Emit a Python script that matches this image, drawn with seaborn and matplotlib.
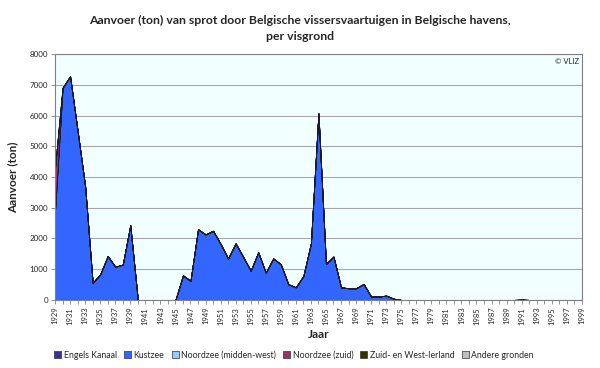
import numpy as np
import pandas as pd
import matplotlib
matplotlib.use("Agg")
import matplotlib.pyplot as plt
import seaborn as sns
from matplotlib.patches import Patch

# data
years = list(range(1929, 2000))
kustzee = [2900, 6900, 7280, 5500, 3700, 560, 830, 1430, 1080, 1150,
           2430, 0, 0, 0, 0, 0, 0, 800, 620, 2300,
           2130, 2250, 1820, 1350, 1840, 1400, 950, 1550, 890, 1350,
           1160, 510, 410, 780, 1840, 6070, 1170, 1410, 410, 380,
           380, 520, 110, 110, 140, 40,
           0, 0, 0, 0, 0, 0, 0, 0, 0, 0,
           0, 0, 0, 0, 0, 0, 0, 0, 0, 0,
           0, 0, 0, 0, 0]
# sparse series: only the years with a visible value
engels_kanaal = {}
noordzee_mw = {}
noordzee_zuid = {1929: 1400}
ierland = {1991: 20}
andere = {}

series_names = ["Engels Kanaal", "Kustzee", "Noordzee (midden-west)",
                "Noordzee (zuid)", "Zuid- en West-Ierland", "Andere gronden"]
series_colors = ["#333399", "#3366FF", "#99CCFF", "#993366", "#333300", "#C0C0C0"]

df = pd.DataFrame({"Jaar": years, "Kustzee": kustzee})
for name, d in [("Engels Kanaal", engels_kanaal), ("Noordzee (midden-west)", noordzee_mw),
                ("Noordzee (zuid)", noordzee_zuid), ("Zuid- en West-Ierland", ierland),
                ("Andere gronden", andere)]:
    df[name] = [d.get(y, 0) for y in years]

sns.set_theme(style="white")
plt.rcParams["font.family"] = ["Lato", "DejaVu Sans"]

fig = plt.figure(figsize=(6, 3.68), dpi=100)
ax = fig.add_axes([0.0917, 0.185, 0.878, 0.668])
ax.set_facecolor("#F2FFFF")

ax.stackplot(df["Jaar"], [df[n] for n in series_names], colors=series_colors,
             edgecolor="#1a1a33", linewidth=0.6)

ax.set_xlim(1929, 1999)
ax.set_ylim(0, 8000)
ax.set_yticks(range(0, 8001, 1000))
ax.yaxis.grid(True, color="#A8A8A8", linewidth=0.8)
ax.set_axisbelow(True)
ax.set_xticks(years)
ax.set_xticklabels([str(y) if (y - 1929) % 2 == 0 else "" for y in years],
                   rotation=90, fontsize=5.5)
ax.tick_params(axis="y", labelsize=5.8, length=3, width=0.6, color="#808080", pad=2, left=True)
ax.tick_params(axis="x", length=3, width=0.6, color="#808080", pad=2, bottom=True)
for s in ax.spines.values():
    s.set_color("#808080")
    s.set_linewidth(0.8)

ax.set_xlabel("Jaar", fontsize=8.5, fontweight="bold", labelpad=3)
ax.set_ylabel("Aanvoer (ton)", fontsize=8.5, fontweight="bold", labelpad=8)
fig.suptitle("Aanvoer (ton) van sprot door Belgische vissersvaartuigen in Belgische havens,\nper visgrond",
             fontsize=8.8, fontweight="bold", y=0.96, linespacing=1.55)
ax.text(0.995, 0.985, "© VLIZ", transform=ax.transAxes, ha="right", va="top", fontsize=5.5)

handles = [Patch(facecolor=c, edgecolor="#333333", linewidth=0.5) for c in series_colors]
fig.legend(handles, series_names, loc="center", bbox_to_anchor=(0.49, 0.035), ncol=6,
           frameon=False, fontsize=6.3, handlelength=0.8, handleheight=0.8,
           handletextpad=0.3, columnspacing=0.8)

fig.savefig("out.png", dpi=100)
